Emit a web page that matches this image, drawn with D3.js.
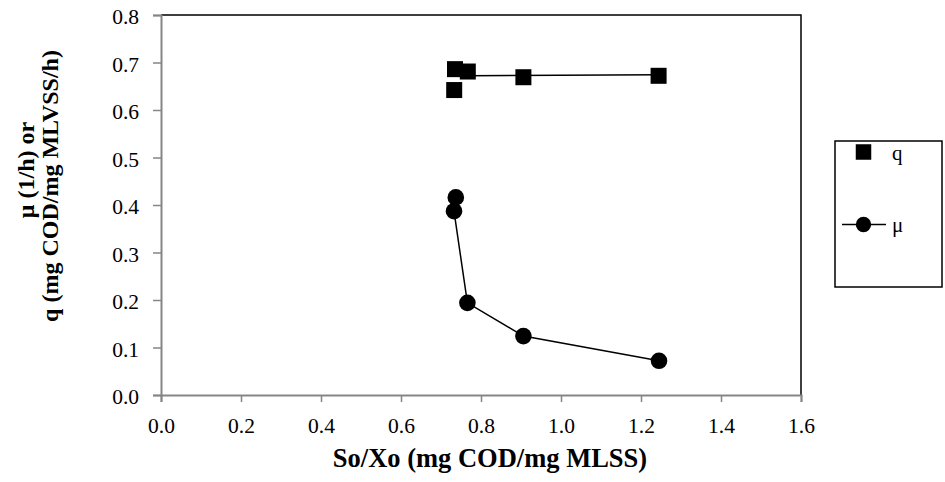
<!DOCTYPE html>
<html lang="en">
<head>
    <meta charset="UTF-8">
    <title>q and mu vs So/Xo</title>
    <script src="https://d3js.org/d3.v7.min.js"></script>
    <style>
        body {
            margin: 0;
            padding: 0;
            background-color: #fff;
        }
        svg text {
            font-family: 'Liberation Serif', 'Times New Roman', serif;
        }
    </style>
</head>
<body>
    <script>
        // Data
        const qX = [0.735, 0.767, 0.733, 0.906, 1.244];
        const qY = [0.686, 0.681, 0.642, 0.669, 0.672];
        // the line drawn through the q points
        const qLineX = [0.767, 1.244];
        const qLineY = [0.672, 0.674];
        const muX = [0.737, 0.7325, 0.766, 0.906, 1.245];
        const muY = [0.416, 0.387, 0.194, 0.124, 0.072];
        const xTicks = [0, 0.2, 0.4, 0.6, 0.8, 1.0, 1.2, 1.4, 1.6];
        const yTicks = [0, 0.1, 0.2, 0.3, 0.4, 0.5, 0.6, 0.7, 0.8];

        const width = 945, height = 482;
        const margin = { left: 161, right: 144, top: 15, bottom: 87 };
        const axisGray = "#868686";
        const serif = "'Liberation Serif', 'Times New Roman', serif";

        const svg = d3.select("body")
            .append("svg")
            .attr("width", width)
            .attr("height", height);

        const x = d3.scaleLinear().domain([0, 1.6]).range([margin.left, width - margin.right]);
        const y = d3.scaleLinear().domain([0, 0.8]).range([height - margin.bottom, margin.top]);

        // top and right border of the plot area
        svg.append("path")
            .attr("d", `M${x(0)},${y(0.8)}H${x(1.6)}V${y(0)}`)
            .attr("fill", "none")
            .attr("stroke", "#000")
            .attr("stroke-width", 1.5);

        // Axes
        const xAxis = svg.append("g")
            .attr("transform", `translate(0,${y(0)})`)
            .call(d3.axisBottom(x).tickValues(xTicks).tickFormat(d3.format(".1f")).tickSize(7).tickPadding(16));

        const yAxis = svg.append("g")
            .attr("transform", `translate(${x(0)},0)`)
            .call(d3.axisLeft(y).tickValues(yTicks).tickFormat(d3.format(".1f")).tickSize(8).tickPadding(14));

        [xAxis, yAxis].forEach(a => {
            a.attr("font-family", serif).attr("font-size", 21.5);
            a.select(".domain").attr("stroke", axisGray).attr("stroke-width", 2);
            a.selectAll(".tick line").attr("stroke", axisGray).attr("stroke-width", 1.5);
            a.selectAll(".tick text").attr("fill", "#000");
        });
        yAxis.selectAll(".tick text").attr("dy", "0.4em");

        // Axis titles
        svg.append("text")
            .attr("x", 490)
            .attr("y", 467)
            .attr("text-anchor", "middle")
            .style("font-size", "26.5px")
            .style("font-weight", "bold")
            .text("So/Xo (mg COD/mg MLSS)");

        svg.append("text")
            .attr("transform", "translate(34,170) rotate(-90)")
            .attr("text-anchor", "middle")
            .style("font-size", "24px")
            .style("font-weight", "bold")
            .text("μ (1/h) or");

        svg.append("text")
            .attr("transform", "translate(58,186) rotate(-90)")
            .attr("text-anchor", "middle")
            .style("font-size", "24px")
            .style("font-weight", "bold")
            .text("q (mg COD/mg MLVSS/h)");

        // Lines
        const line = d3.line().x(d => x(d[0])).y(d => y(d[1]));

        svg.append("path")
            .datum(d3.zip(qLineX, qLineY))
            .attr("d", line)
            .attr("fill", "none")
            .attr("stroke", "#000")
            .attr("stroke-width", 1.5);

        svg.append("path")
            .datum(d3.zip(muX, muY).slice(1))
            .attr("d", line)
            .attr("fill", "none")
            .attr("stroke", "#000")
            .attr("stroke-width", 1.5);

        // Markers
        const sq = 16;
        svg.append("g")
            .selectAll("rect")
            .data(d3.zip(qX, qY))
            .enter()
            .append("rect")
            .attr("x", d => x(d[0]) - sq / 2)
            .attr("y", d => y(d[1]) - sq / 2)
            .attr("width", sq)
            .attr("height", sq)
            .attr("fill", "#000");

        svg.append("g")
            .selectAll("circle")
            .data(d3.zip(muX, muY))
            .enter()
            .append("circle")
            .attr("cx", d => x(d[0]))
            .attr("cy", d => y(d[1]))
            .attr("r", 8.3)
            .attr("fill", "#000");

        // Legend
        const legend = svg.append("g").attr("transform", "translate(835,141)");
        legend.append("rect")
            .attr("width", 107)
            .attr("height", 146)
            .attr("fill", "#fff")
            .attr("stroke", "#000")
            .attr("stroke-width", 1.5);

        legend.append("rect")
            .attr("x", 28.5 - 7.75)
            .attr("y", 11 - 7.75)
            .attr("width", 15.5)
            .attr("height", 15.5)
            .attr("fill", "#000");
        legend.append("text")
            .attr("x", 57)
            .attr("y", 19)
            .style("font-size", "21px")
            .text("q");

        legend.append("line")
            .attr("x1", 7).attr("x2", 51)
            .attr("y1", 83.5).attr("y2", 83.5)
            .attr("stroke", "#000")
            .attr("stroke-width", 1.5);
        legend.append("circle")
            .attr("cx", 28.5)
            .attr("cy", 83.5)
            .attr("r", 7.7)
            .attr("fill", "#000");
        legend.append("text")
            .attr("x", 57)
            .attr("y", 91)
            .style("font-size", "21px")
            .text("μ");
    </script>
</body>
</html>
